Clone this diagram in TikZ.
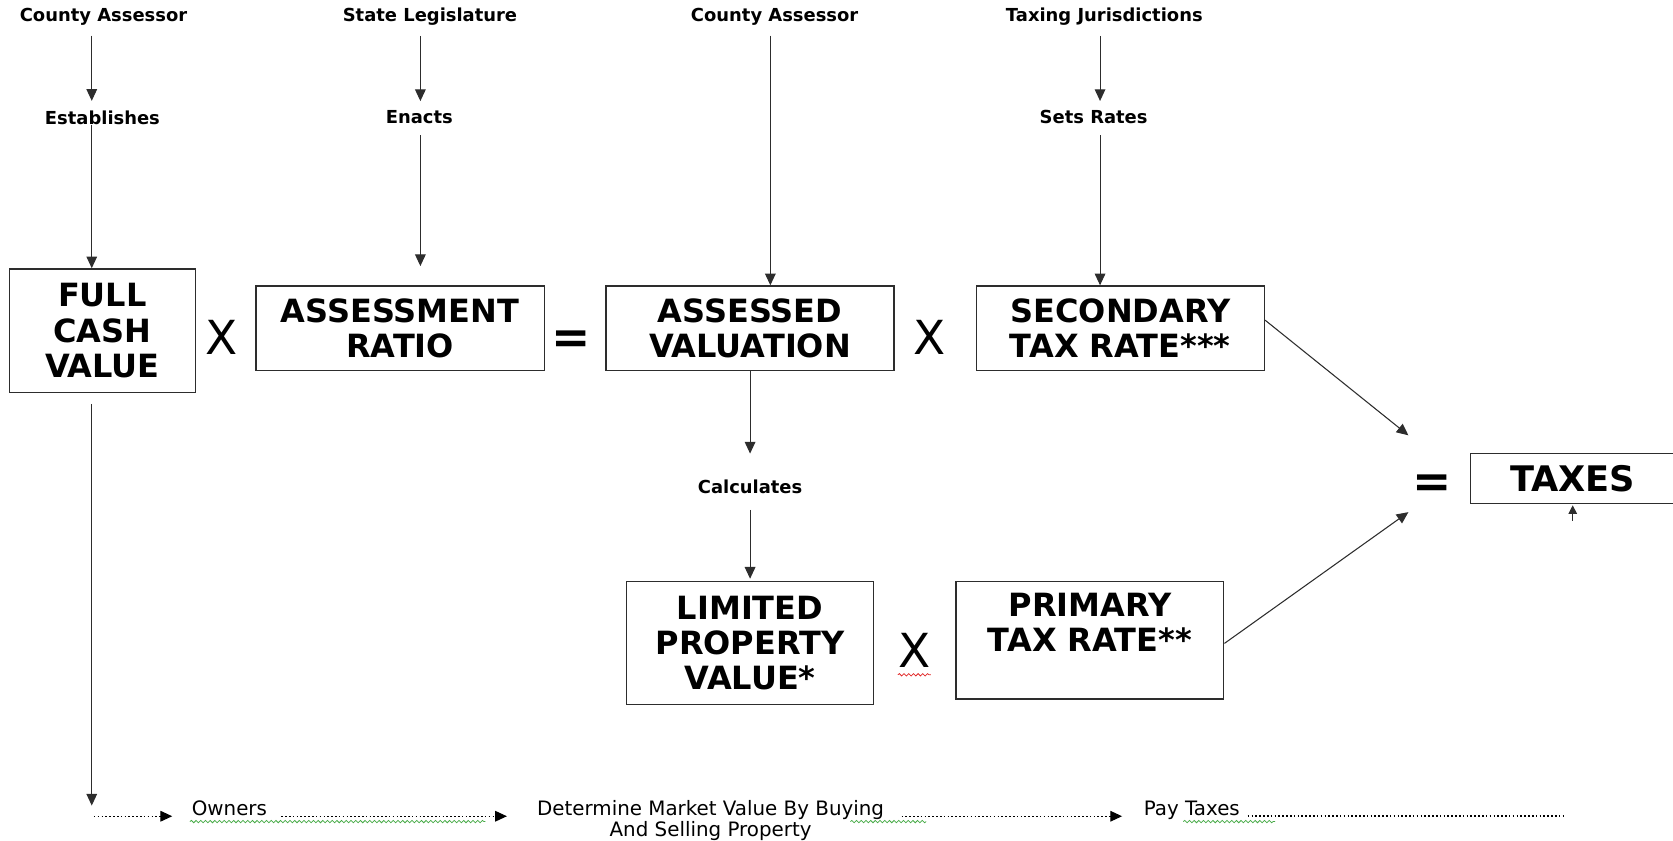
\documentclass[tikz,border=0pt]{standalone}
\usepackage{fontspec}
\setmainfont{DejaVu Sans}
\usepackage{tikz}
\usetikzlibrary{arrows.meta,positioning,calc,decorations.pathmorphing}
\definecolor{lineGray}{RGB}{45,45,45}
\definecolor{spellGreen}{RGB}{70,170,70}
\definecolor{spellRed}{RGB}{225,40,40}
\newcommand{\valfont}{\fontsize{15}{16.5}\bfseries\selectfont}
\newcommand{\actfont}{\fontsize{8.4}{10}\bfseries\selectfont}
\newcommand{\rowfont}{\fontsize{9.3}{9.8}\selectfont}
\newcommand{\signfont}{\fontsize{22}{24}\selectfont}

\begin{document}
\begin{tikzpicture}[x=0.5pt,y=-0.5pt,
  valbox/.style={draw=lineGray,line width=0.6pt,font=\valfont,align=center,inner sep=0pt},
  act/.style={font=\actfont,inner sep=0pt},
  rowtxt/.style={font=\rowfont,inner sep=0pt},
  sign/.style={font=\signfont,inner sep=0pt},
  arr/.style={-{Triangle[length=5.5pt,width=5pt]},draw=lineGray,line width=0.5pt},
  dotline/.style={draw=black,line width=0.85pt,dash pattern=on 0.75pt off 1.05pt},
  squig/.style={decorate,decoration={snake,amplitude=0.55pt,segment length=2.2pt},line width=0.35pt}]
  \useasboundingbox (0,0) rectangle (1568,788);

  % who does what
  \node[act] (ca1) at (97,16) {County Assessor};
  \node[act] (sl) at (403,16) {State Legislature};
  \node[act] (ca2) at (726,16) {County Assessor};
  \node[act] (tj) at (1035,16) {Taxing Jurisdictions};
  \node[act] (est) at (96,110) {Establishes};
  \node[act] (ena) at (393,110) {Enacts};
  \node[act] (setr) at (1025,110) {Sets Rates};
  \node[act] (calc) at (703,456) {Calculates};

  % the values
  \node[valbox,minimum width=87pt,minimum height=58pt] (fcv) at (96,310) {FULL\\CASH\\VALUE};
  \node[valbox,minimum width=135pt,minimum height=39.5pt] (ratio) at (375,307.5) {ASSESSMENT\\RATIO};
  \node[valbox,minimum width=135pt,minimum height=39.5pt] (av) at (703,307.5) {ASSESSED\\VALUATION};
  \node[valbox,minimum width=135pt,minimum height=39.5pt] (sec) at (1050,307.5) {SECONDARY\\TAX RATE***};
  \node[valbox,minimum width=116pt,minimum height=57.5pt] (lpv) at (703,602.5) {LIMITED\\PROPERTY\\VALUE*};
  \node[valbox,minimum width=125.5pt,minimum height=55pt] (ptr) at (1021.5,600) {PRIMARY\\TAX RATE**\\\mbox{}};
  \node[valbox,font=\fontsize{16.5}{18}\bfseries\selectfont,minimum width=96pt,minimum height=23.5pt] (taxes) at (1474,448.5) {TAXES};

  % operators
  \node[sign] (x1) at (208,316) {X};
  \node[sign,font=\signfont\bfseries] (eq1) at (535,321) {=};
  \node[sign] (x2) at (871,316) {X};
  \node[sign] (x3) at (857,610) {X};
  \node[sign,font=\signfont\bfseries] (eq2) at (1342,456) {=};

  \coordinate (k1) at (86,0);
  \coordinate (k2) at (394,0);
  \coordinate (k3) at (722,0);
  \coordinate (k4) at (1031,0);
  \coordinate (in1) at (1320,408);
  \coordinate (in2) at (1320,480);
  \coordinate (tup) at (1474,488);
  \coordinate (bl) at (86,755);

  \draw[arr,shorten <=4.5pt,shorten >=4.3pt] (ca1.south -| k1) -- (est.north -| k1);
  \draw[arr] (est.south -| k1) -- (fcv.north -| k1);
  \draw[arr,shorten <=4.5pt,shorten >=4.3pt] (sl.south -| k2) -- (ena.north -| k2);
  \draw[arr,shorten <=5pt,shorten >=9pt] (ena.south -| k2) -- (ratio.north -| k2);
  \draw[arr,shorten <=4.5pt] (ca2.south -| k3) -- (av.north -| k3);
  \draw[arr,shorten <=4.5pt,shorten >=4.3pt] (tj.south -| k4) -- (setr.north -| k4);
  \draw[arr,shorten <=5pt] (setr.south -| k4) -- (sec.north -| k4);
  \draw[arr,shorten >=12pt] (av.south) -- (calc.north);
  \draw[arr,shorten <=7.5pt,shorten >=1pt] (calc.south) -- (lpv.north);
  \draw[arr] ([yshift=3.75pt]sec.east) -- (in1);
  \draw[arr] ([yshift=-1.5pt]ptr.east) -- (in2);
  \draw[arr,-{Triangle[length=4pt,width=4pt]},shorten >=0.5pt] (tup) -- (taxes.south);
  \draw[arr,shorten <=5pt] (fcv.south -| k1) -- (bl);

  % what owners do
  \node[rowtxt,anchor=base] (own) at (215,764) {Owners};
  \node[rowtxt,anchor=north,align=center] (mkt) at (666,750) {Determine Market Value By Buying\\And Selling Property};
  \node[rowtxt,anchor=base] (pay) at (1117,764) {Pay Taxes};
  \coordinate (r0) at (88,765);
  \coordinate (r9) at (1465,765);
  \draw[dotline,arr,draw=black,shorten >=9pt] (r0) -- (own.west |- r0);
  \draw[dotline,arr,draw=black,shorten <=6.5pt,shorten >=14pt] (own.east |- r0) -- (mkt.west |- r0);
  \draw[dotline,arr,draw=black,shorten <=8pt,shorten >=10pt] (mkt.east |- r0) -- (pay.west |- r0);
  \draw[dotline,shorten <=3.5pt] (pay.east |- r0) -- (r9);

  % spell check marks
  \draw[squig,spellGreen] (178,770) -- (455,770);
  \draw[squig,spellGreen] (797,770) -- (868,770);
  \draw[squig,spellGreen] (1109,770) -- (1195,770);
  \draw[squig,spellRed] ([yshift=-3pt]x3.south west) -- ([yshift=-3pt]x3.south east);
\end{tikzpicture}
\end{document}
